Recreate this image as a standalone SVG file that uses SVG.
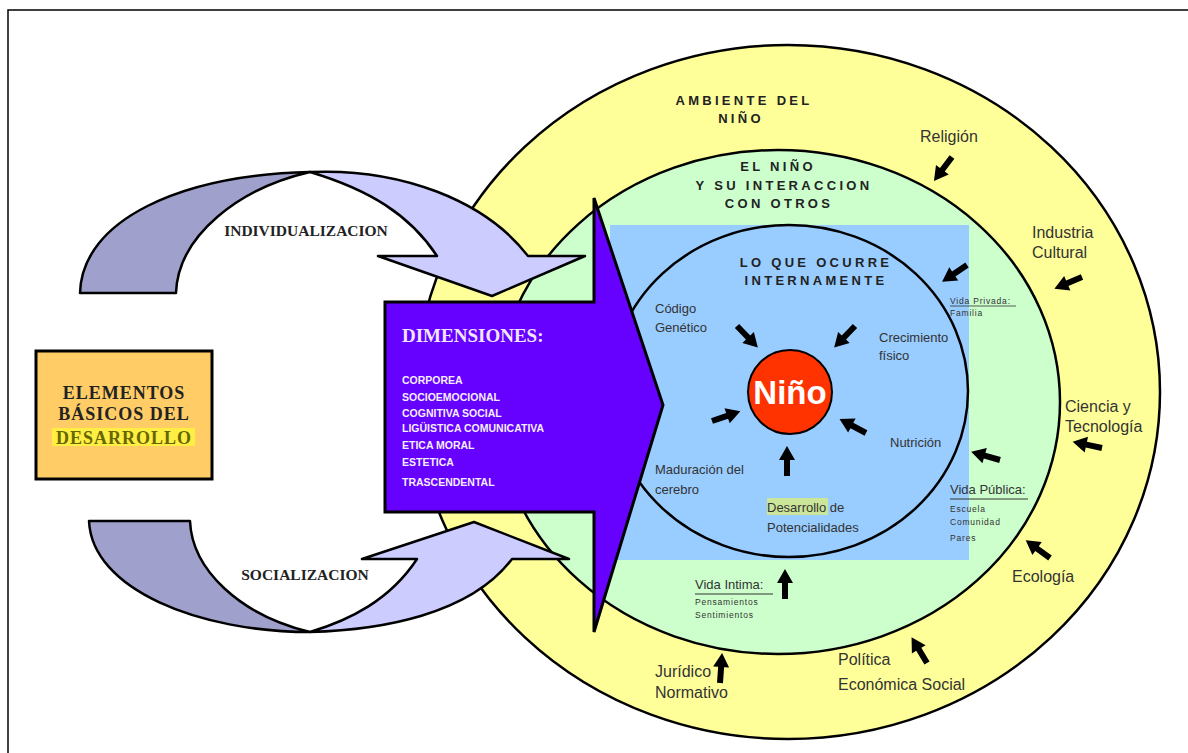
<svg xmlns="http://www.w3.org/2000/svg" width="1188" height="753" viewBox="0 0 1188 753">
<style>
.ring{stroke:#000;stroke-width:2.5}
.cap{font-family:"Liberation Sans",Arial,sans-serif;font-weight:bold;font-size:13px;letter-spacing:3.3px;fill:#222;text-anchor:middle}
.lbl{font-family:"Liberation Sans",Arial,sans-serif;font-size:16px;fill:#333}
.in{font-family:"Liberation Sans",Arial,sans-serif;font-size:13px;fill:#333}
.sm{font-family:"Liberation Sans",Arial,sans-serif;font-size:8.5px;letter-spacing:0.8px;fill:#333}
.tb{font-family:"Liberation Serif","Times New Roman",serif;font-weight:bold}
.dim{font-family:"Liberation Sans",Arial,sans-serif;font-weight:bold;font-size:10.5px;fill:#F5EEFF}
.ar{fill:#000}
.band{stroke:#000;stroke-width:2.5;stroke-linejoin:round}
</style>
<defs>
<path id="ar" d="M0,-3 L16,-3 L16,-8 L30,0 L16,8 L16,3 L0,3 Z"/>
</defs>
<path d="M8,753 L8,10 L1188,10" fill="none" stroke="#000" stroke-width="1.5"/>

<g id="ambiente">
<ellipse class="ring" cx="788" cy="392" rx="372" ry="347" fill="#FFFF99"/>
<text class="cap" x="744" y="105">AMBIENTE DEL</text>
<text class="cap" x="741" y="123">NIÑO</text>
<text class="lbl" x="920" y="142">Religión</text>
<text class="lbl" x="1032" y="238">Industria</text>
<text class="lbl" x="1032" y="258">Cultural</text>
<text class="lbl" x="1065" y="412">Ciencia y</text>
<text class="lbl" x="1065" y="432">Tecnología</text>
<text class="lbl" x="1012" y="582">Ecología</text>
<text class="lbl" x="838" y="665">Política</text>
<text class="lbl" x="838" y="690">Económica Social</text>
<text class="lbl" x="655" y="677">Jurídico</text>
<text class="lbl" x="655" y="698">Normativo</text>
</g>

<g id="interaccion">
<ellipse class="ring" cx="778" cy="402" rx="282" ry="252" fill="#CCFFCC"/>
<text class="cap" x="778" y="171">EL NIÑO</text>
<text class="cap" x="784" y="190">Y SU INTERACCION</text>
<text class="cap" x="779" y="208">CON OTROS</text>
<text class="in" x="695" y="589">Vida  Intima:</text>
<line x1="695" y1="594" x2="773" y2="594" stroke="#333" stroke-width="1"/>
<text class="sm" x="695" y="605">Pensamientos</text>
<text class="sm" x="695" y="618">Sentimientos</text>
</g>

<g id="interno">
<rect x="610" y="225" width="359" height="335" fill="#99CCFF"/>
<ellipse class="ring" cx="789" cy="391" rx="179" ry="166" fill="#99CCFF"/>
<text class="cap" x="816" y="267">LO QUE OCURRE</text>
<text class="cap" x="816" y="285">INTERNAMENTE</text>
<text class="in" x="655" y="313">Código</text>
<text class="in" x="655" y="332">Genético</text>
<text class="in" x="879" y="342">Crecimiento</text>
<text class="in" x="879" y="360">físico</text>
<text class="in" x="890" y="447">Nutrición</text>
<text class="in" x="655" y="474">Maduración del</text>
<text class="in" x="655" y="494">cerebro</text>
<rect x="767" y="498" width="61" height="17" fill="#CCE699"/>
<text class="in" x="767" y="512">Desarrollo de</text>
<text class="in" x="767" y="532">Potencialidades</text>
<text class="sm" x="950" y="304">Vida Privada:</text>
<line x1="950" y1="306" x2="1016" y2="306" stroke="#333" stroke-width="0.8"/>
<text class="sm" x="950" y="316">Familia</text>
<text class="in" x="950" y="494">Vida Pública:</text>
<line x1="950" y1="499" x2="1028" y2="499" stroke="#333" stroke-width="1"/>
<text class="sm" x="950" y="512">Escuela</text>
<text class="sm" x="950" y="525">Comunidad</text>
<text class="sm" x="950" y="541">Pares</text>
</g>

<g id="nino">
<circle cx="790" cy="392" r="42" fill="#FF3300" stroke="#000" stroke-width="2"/>
<text x="790" y="404" font-family="'Liberation Sans',Arial,sans-serif" font-size="33" font-weight="bold" fill="#fff" text-anchor="middle">Niño</text>
</g>

<g id="individualizacion">
<path class="band" d="M80,293 C82,220 180,175 310,172 C240,188 178,235 176,293 Z" fill="#A0A0CC"/>
<path class="band" d="M310,172 C400,168 485,200 528,256 L585,256 L492,296 L378,256 L437,256 C410,215 370,190 310,172 Z" fill="#CCCCFF"/>
<text class="tb" x="306" y="236" font-size="15.5" fill="#222" text-anchor="middle">INDIVIDUALIZACION</text>
</g>

<g id="socializacion">
<path class="band" d="M89,521 L190,521 C192,570 240,615 310,632 C200,632 92,590 89,521 Z" fill="#A0A0CC"/>
<path class="band" d="M310,632 C380,630 470,615 512,559 L569,559 L474,522 L362,559 L417,559 C390,600 350,620 310,632 Z" fill="#CCCCFF"/>
<text class="tb" x="305" y="580" font-size="15.5" fill="#222" text-anchor="middle">SOCIALIZACION</text>
</g>

<g id="dimensiones">
<polygon points="385,302 594,302 594,198 663,405 594,632 594,512 385,512" fill="#6600FF" stroke="#000" stroke-width="3" stroke-linejoin="miter"/>
<text class="tb" x="402" y="342" font-size="19" fill="#F0E6FF">DIMENSIONES:</text>
<text class="dim" x="402" y="384">CORPOREA</text>
<text class="dim" x="402" y="401">SOCIOEMOCIONAL</text>
<text class="dim" x="402" y="417">COGNITIVA SOCIAL</text>
<text class="dim" x="402" y="432">LIGÜISTICA COMUNICATIVA</text>
<text class="dim" x="402" y="449">ETICA MORAL</text>
<text class="dim" x="402" y="466">ESTETICA</text>
<text class="dim" x="402" y="486">TRASCENDENTAL</text>
</g>

<g id="elementos">
<rect x="36" y="351" width="176" height="128" fill="#FFCC66" stroke="#000" stroke-width="3"/>
<rect x="52" y="428" width="143" height="18" fill="#FFEE44"/>
<text class="tb" x="124" y="399" font-size="18" letter-spacing="1" fill="#222" text-anchor="middle">ELEMENTOS</text>
<text class="tb" x="124" y="420" font-size="18" letter-spacing="1" fill="#222" text-anchor="middle">BÁSICOS DEL</text>
<text class="tb" x="124" y="444" font-size="18" letter-spacing="1" fill="#666600" text-anchor="middle">DESARROLLO</text>
</g>

<g id="connectors" class="ar">
<use href="#ar" transform="translate(952,157) rotate(127)"/>
<use href="#ar" transform="translate(1082,277) rotate(157)"/>
<use href="#ar" transform="translate(1102,448) rotate(192)"/>
<use href="#ar" transform="translate(1050,558) rotate(216)"/>
<use href="#ar" transform="translate(927,663) rotate(239)"/>
<use href="#ar" transform="translate(720,683) rotate(-86)"/>
<use href="#ar" transform="translate(785,599) rotate(-90)"/>
<use href="#ar" transform="translate(1000,460) rotate(196)"/>
<use href="#ar" transform="translate(967,265) rotate(146)"/>
<use href="#ar" transform="translate(737,326) rotate(46)"/>
<use href="#ar" transform="translate(855,326) rotate(134)"/>
<use href="#ar" transform="translate(712,421) rotate(-19)"/>
<use href="#ar" transform="translate(866,433) rotate(208)"/>
<use href="#ar" transform="translate(787,476) rotate(-90)"/>
</g>
</svg>
